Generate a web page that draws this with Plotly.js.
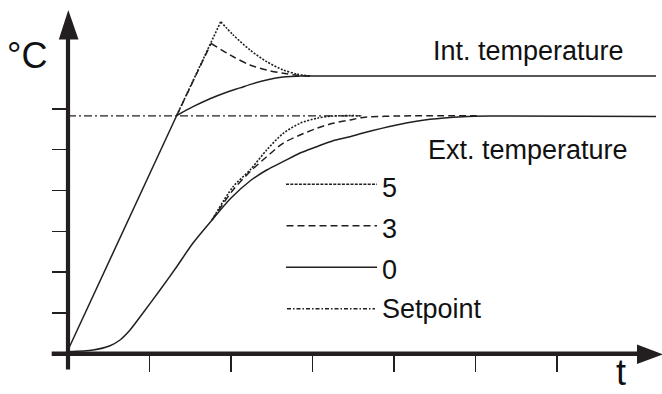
<!DOCTYPE html>
<html>
<head>
<meta charset="utf-8">
<script src="https://cdn.plot.ly/plotly-3.0.1.min.js"></script>
<style>html,body{margin:0;padding:0;background:#fff;}#chart{width:662px;height:394px;}</style>
</head>
<body>
<div id="chart"></div>
<script>
// ---- data (time units = x ticks, temperature units = y ticks) ----
// Int. temperature: common linear heat-up ramp, then settling curves
const intRiseX = [0, 1.334];
const intRiseY = [0.09, 5.838];

const intX0 = [1.334, 1.534, 1.742, 1.947, 2.110, 2.270, 2.450, 2.638, 2.871, 3.2, 7.215];
const intY0 = [5.838, 6.054, 6.250, 6.410, 6.515, 6.620, 6.715, 6.780, 6.806, 6.808, 6.806];

const intRise3X = [1.334, 1.755];
const intRise3Y = [5.838, 7.603];
const intX3 = [1.755, 2.028, 2.233, 2.438, 2.642, 2.806, 2.969];
const intY3 = [7.603, 7.279, 7.076, 6.953, 6.873, 6.824, 6.806];

const intRise5X = [1.334, 1.874];
const intRise5Y = [5.838, 8.137];
const intX5 = [1.874, 2.028, 2.233, 2.438, 2.642, 2.806, 2.969];
const intY5 = [8.137, 7.811, 7.444, 7.157, 6.953, 6.855, 6.806];

// Ext. temperature
const extX0 = [0, 0.307, 0.515, 0.638, 0.761, 0.920, 1.129, 1.334, 1.534, 1.767, 2.0, 2.233, 2.438, 2.638, 2.847, 3.052, 3.252, 3.460, 3.620, 4.033, 4.442, 4.847, 5.178, 7.215];
const extY0 = [0.049, 0.091, 0.196, 0.336, 0.581, 0.998, 1.561, 2.132, 2.713, 3.277, 3.816, 4.233, 4.502, 4.706, 4.919, 5.074, 5.221, 5.319, 5.409, 5.605, 5.745, 5.809, 5.826, 5.814];

const extX3 = [1.767, 2.025, 2.233, 2.438, 2.638, 2.847, 3.052, 3.252, 3.460, 3.620, 4.049, 5.015];
const extY3 = [3.277, 4.012, 4.461, 4.828, 5.157, 5.360, 5.525, 5.647, 5.728, 5.790, 5.826, 5.833];

const extX5 = [1.767, 2.025, 2.233, 2.438, 2.638, 2.847, 3.052, 3.252, 3.583];
const extY5 = [3.277, 4.093, 4.502, 4.993, 5.395, 5.647, 5.770, 5.826, 5.833];

const setpointX = [0, 3.6];
const setpointY = [5.83, 5.83];

const xTicks = [1, 2, 3, 4, 5, 6];
const yTicks = [1, 2, 3, 4, 5, 6];

const legendLabels = ['5', '3', '0', 'Setpoint'];
const curveLabels = ['Int. temperature', 'Ext. temperature'];
const axisLabels = ['°C', 't'];

// ---- layout helpers ----
const W = 662, H = 394;
const OX = 68, OY = 353.7, SX = 81.5, SY = 40.8;
const px = v => v / W;
const py = v => 1 - v / H;
const INK = '#231f20';
const FONT = 'Liberation Sans, Arial, sans-serif';

const dotStyle = '2px,1.5px';
const dashStyle = '7px,4px';
const dashDotStyle = '8px,3px,2px,3px';

function tr(x, y, dash, w, smooth) {
  return {x: x, y: y, type: 'scatter', mode: 'lines', hoverinfo: 'skip',
    line: {color: INK, width: w, dash: dash, shape: smooth ? 'spline' : 'linear', smoothing: 0.8},
    showlegend: false};
}

const traces = [
  tr(setpointX, setpointY, dashDotStyle, 1.4, false),
  tr(intRise5X, intRise5Y, dotStyle, 1.6, false),
  tr(intX5, intY5, dotStyle, 1.6, true),
  tr(extX5, extY5, dotStyle, 1.6, true),
  tr(intRise3X, intRise3Y, dashStyle, 1.5, false),
  tr(intX3, intY3, dashStyle, 1.5, true),
  tr(extX3, extY3, dashStyle, 1.5, true),
  tr(intRiseX, intRiseY, 'solid', 1.5, false),
  tr(intX0, intY0, 'solid', 1.5, true),
  tr(extX0, extY0, 'solid', 1.5, true)
];

const shapes = [];
function pline(x0, y0, x1, y1, w, dash) {
  shapes.push({type: 'line', xref: 'paper', yref: 'paper', x0: px(x0), y0: py(y0), x1: px(x1), y1: py(y1),
    line: {color: INK, width: w, dash: dash || 'solid'}});
}
// axes
pline(OX, 369.5, OX, 38, 4.2);
pline(51.7, OY, 640, OY, 4.6);
shapes.push({type: 'path', xref: 'paper', yref: 'paper', fillcolor: INK, line: {width: 0},
  path: `M ${px(68.3)},${py(10)} L ${px(78.5)},${py(39.5)} L ${px(58.8)},${py(39.5)} Z`});
shapes.push({type: 'path', xref: 'paper', yref: 'paper', fillcolor: INK, line: {width: 0},
  path: `M ${px(663)},${py(354.3)} L ${px(637)},${py(344.6)} L ${px(637)},${py(364)} Z`});
// legend samples
pline(286, 184.3, 377, 184.3, 1.5, '3px,1.3px');
pline(286.5, 225.7, 377, 225.7, 1.5, dashStyle);
pline(286, 267.3, 377, 267.3, 1.5);
pline(287, 308.7, 375, 308.7, 1.4, '4px,2px,1.5px,2px');

const annotations = [];
function txt(t, x, y, size, anchor) {
  annotations.push({text: t, xref: 'paper', yref: 'paper', x: px(x), y: py(y), xanchor: 'left', yanchor: anchor || 'middle',
    showarrow: false, borderpad: 0, font: {family: FONT, size: size, color: '#111'}});
}
txt(axisLabels[0], 5.5, 55.8, 36);
txt(axisLabels[1], 615, 393.5, 36, 'bottom');
txt(curveLabels[0], 431.5, 51.3, 27);
txt(curveLabels[1], 427, 149.6, 27);
txt(legendLabels[0], 381.5, 187.6, 27);
txt(legendLabels[1], 381.5, 229.2, 27);
txt(legendLabels[2], 381.5, 270.2, 27);
txt(legendLabels[3], 381.5, 308.6, 27);

const layout = {
  width: W, height: H,
  margin: {l: 0, r: 0, t: 0, b: 0, pad: 0},
  paper_bgcolor: '#fff', plot_bgcolor: '#fff',
  showlegend: false,
  xaxis: {range: [-OX / SX, (W - OX) / SX], anchor: 'free', position: (H - OY) / H,
    showgrid: false, zeroline: false, showline: false, showticklabels: false,
    tickmode: 'array', tickvals: xTicks, ticks: 'outside', ticklen: 17, tickwidth: 1.3, tickcolor: INK, fixedrange: true},
  yaxis: {range: [(OY - H) / SY, OY / SY], anchor: 'free', position: OX / W,
    showgrid: false, zeroline: false, showline: false, showticklabels: false,
    tickmode: 'array', tickvals: yTicks, ticks: 'outside', ticklen: 16, tickwidth: 1.3, tickcolor: INK, fixedrange: true},
  shapes: shapes,
  annotations: annotations
};

Plotly.newPlot('chart', traces, layout, {staticPlot: true, displayModeBar: false});
</script>
</body>
</html>
